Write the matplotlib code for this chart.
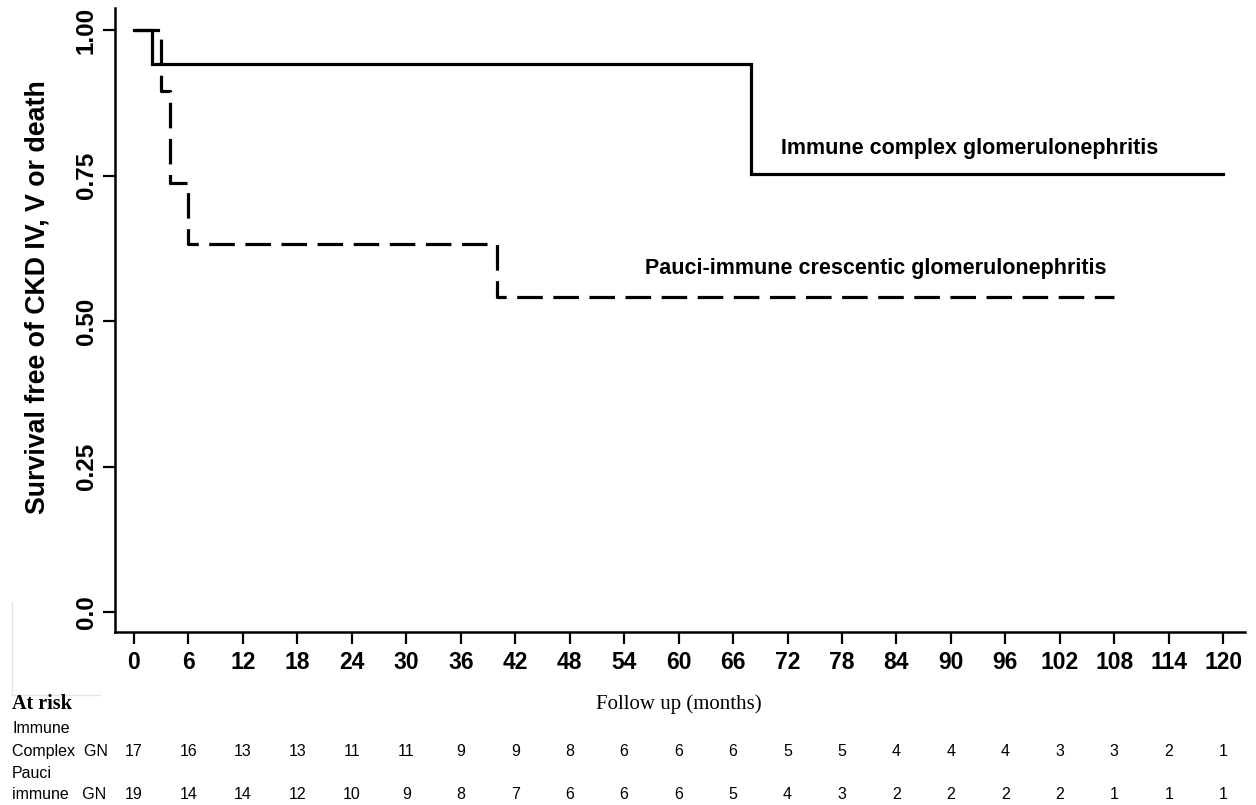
import matplotlib
matplotlib.use("Agg")
import matplotlib.pyplot as plt
from matplotlib import font_manager
from matplotlib.transforms import blended_transform_factory
from matplotlib.lines import Line2D

# ---- data ----
ic_times = [0, 2, 68, 120]
ic_surv = [1.0, 0.941, 0.753, 0.753]
pauci_times = [0, 3, 4, 6, 40, 108]
pauci_surv = [1.0, 0.895, 0.737, 0.632, 0.541, 0.541]

xticks = list(range(0, 121, 6))
yticks = [0.0, 0.25, 0.50, 0.75, 1.00]
ytick_labels = ["0.0", "0.25", "0.50", "0.75", "1.00"]

risk_ic = [17, 16, 13, 13, 11, 11, 9, 9, 8, 6, 6, 6, 5, 5, 4, 4, 4, 3, 3, 2, 1]
risk_pauci = [19, 14, 14, 12, 10, 9, 8, 7, 6, 6, 6, 5, 4, 3, 2, 2, 2, 2, 1, 1, 1]

label_ic = "Immune complex glomerulonephritis"
label_pauci = "Pauci-immune crescentic glomerulonephritis"
ylabel = "Survival free of CKD IV, V or death"
xlabel = "Follow up (months)"

# ---- fonts ----
avail = {f.name for f in font_manager.fontManager.ttflist}
sans = "Liberation Sans" if "Liberation Sans" in avail else "DejaVu Sans"
serif = "Liberation Serif" if "Liberation Serif" in avail else "DejaVu Serif"
narrow = "Liberation Sans Narrow" if "Liberation Sans Narrow" in avail else sans
plt.rcParams["font.family"] = [sans]

W, H = 1256, 805
fig = plt.figure(figsize=(W / 100, H / 100), dpi=100)
fig.patch.set_facecolor("white")

L, R, T, B = 115, 1245, 8, 632
ax = fig.add_axes([L / W, 1 - B / H, (R - L) / W, (B - T) / H])
ax.set_xlim(-2.09, 122.4)
ax.set_ylim(-0.034, 1.038)

ax.step(ic_times, ic_surv, where="post", color="black", lw=2.3, solid_joinstyle="miter")
ax.step(pauci_times, pauci_surv, where="post", color="black", lw=2.3,
        linestyle=(0, (8, 3.3)))

ax.text(71.3, 0.797, label_ic, fontsize=15.5, fontweight="bold", va="center", ha="left")
ax.text(56.3, 0.591, label_pauci, fontsize=15.5, fontweight="bold", va="center", ha="left")

for s in ["top", "right"]:
    ax.spines[s].set_visible(False)
for s in ["left", "bottom"]:
    ax.spines[s].set_linewidth(1.8)

ax.set_xticks(xticks)
ax.set_xticklabels([str(t) for t in xticks], fontsize=16.5, fontweight="bold")
ax.set_yticks(yticks)
ax.set_yticklabels(ytick_labels, fontsize=17.5, fontweight="bold", rotation=90, va="center")
ax.tick_params(axis="both", direction="out", length=8.5, width=1.6)
ax.tick_params(axis="x", pad=5)
ax.tick_params(axis="y", pad=4)

fig.text(38 / W, 1 - 297 / H, ylabel, fontsize=19.3, fontweight="bold", rotation=90,
         ha="center", va="center")

# faint frame artefact at lower left
fig.add_artist(Line2D([12 / W, 12 / W], [1 - 602 / H, 1 - 695 / H], color="#e4e4e4", lw=1))
fig.add_artist(Line2D([12 / W, 100 / W], [1 - 695 / H, 1 - 695 / H], color="#e4e4e4", lw=1))

# ---- at-risk table ----
fig.text(12 / W, 1 - 704 / H, "At risk", fontsize=14.5, fontweight="bold", family=serif,
         va="center", ha="left")
fig.text(679 / W, 1 - 704 / H, xlabel, fontsize=15, family=serif, va="center", ha="center")

fig.text(12 / W, 1 - 728 / H, "Immune", fontsize=11.5, family=narrow, va="center")
fig.text(12 / W, 1 - 751 / H, "Complex  GN", fontsize=11.5, family=narrow, va="center")
fig.text(12 / W, 1 - 773 / H, "Pauci", fontsize=11.5, family=narrow, va="center")
fig.text(12 / W, 1 - 794 / H, "immune   GN", fontsize=11.5, family=narrow, va="center")

trans = blended_transform_factory(ax.transData, fig.transFigure)
for t, v in zip(xticks, risk_ic):
    fig.text(t, 1 - 751 / H, str(v), transform=trans, fontsize=11.5, family=narrow,
             ha="center", va="center")
for t, v in zip(xticks, risk_pauci):
    fig.text(t, 1 - 794 / H, str(v), transform=trans, fontsize=11.5, family=narrow,
             ha="center", va="center")

fig.savefig("out.png", dpi=100)
